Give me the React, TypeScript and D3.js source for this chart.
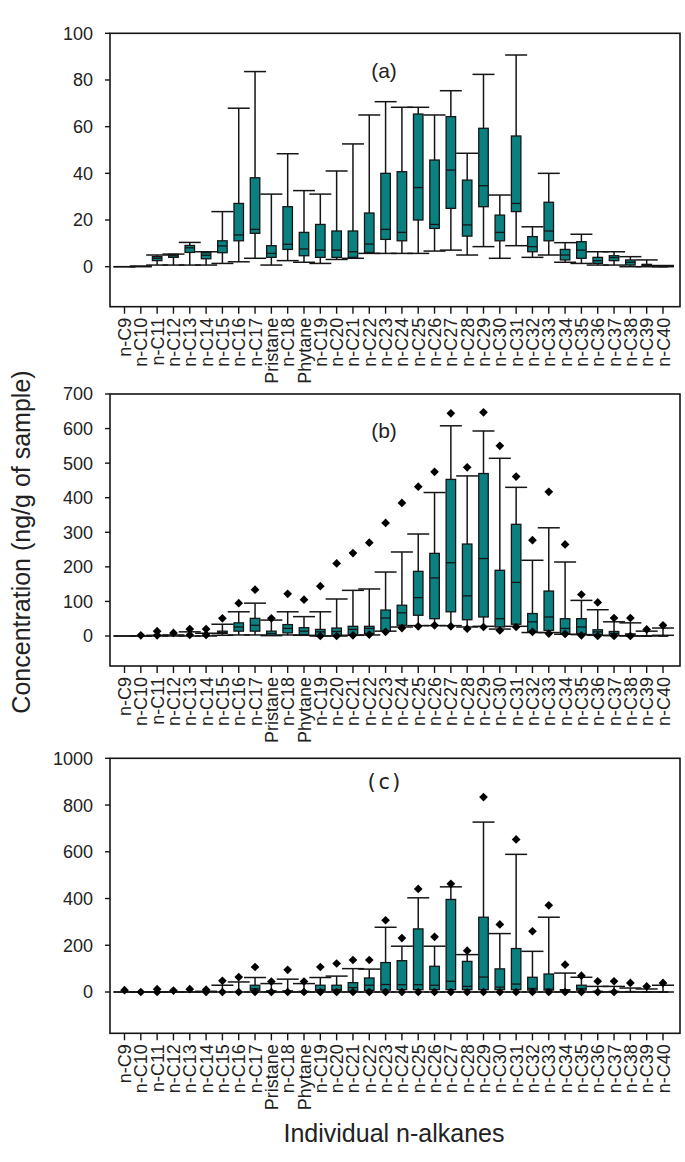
import React from 'react';
import * as d3 from 'd3';

const categories = ['n-C9','n-C10','n-C11','n-C12','n-C13','n-C14','n-C15','n-C16','n-C17','Pristane','n-C18','Phytane','n-C19','n-C20','n-C21','n-C22','n-C23','n-C24','n-C25','n-C26','n-C27','n-C28','n-C29','n-C30','n-C31','n-C32','n-C33','n-C34','n-C35','n-C36','n-C37','n-C38','n-C39','n-C40'];

// Panel (a)
const aLow = [0, 0, 0.7, 0.7, 0.7, 0.7, 1.4, 2.1, 3.6, 0.7, 2.6, 1.9, 1.4, 3.1, 3.6, 5.7, 5.7, 5.7, 5.7, 6.7, 7.1, 5, 8.6, 3.6, 9, 4, 5, 1.9, 1.4, 0.7, 0.7, 0, 0, 0];
const aQ1 = [0, 0, 2.6, 4, 6.1, 3.4, 6, 11.1, 14.3, 4, 7.4, 4.7, 4, 4, 4, 6.1, 11.7, 11.1, 20, 16.4, 25, 13.1, 25.7, 11.1, 23.6, 6.4, 11.1, 2.9, 3.6, 1.4, 2.6, 0.7, 0.3, 0];
const aMed = [0, 0, 3.6, 4.7, 8.1, 4.9, 8.9, 13.6, 16, 5.7, 9.6, 7.6, 7.1, 7.1, 6.4, 9.7, 16, 14.7, 33.9, 18.1, 41.4, 17.9, 34.7, 14.7, 27.1, 8.6, 15.3, 5, 7.1, 2.6, 3.9, 1.9, 0.6, 0];
const aQ3 = [0, 0, 4.3, 5.3, 9.1, 6, 11.1, 27.1, 38.1, 9, 25.7, 14.7, 18.1, 15.3, 15.3, 23, 40, 40.7, 65.4, 45.7, 64.3, 37.1, 59.3, 22.1, 56, 12.9, 27.6, 7.4, 10.7, 4, 4.7, 2.9, 1, 0.3];
const aHigh = [0, 0.3, 5, 5.4, 10.4, 6.4, 23.6, 67.9, 83.6, 31.1, 48.4, 32.6, 31.1, 41, 52.6, 65, 70.7, 68.3, 68.3, 65, 75.4, 48.6, 82.4, 30.7, 90.7, 17.1, 40, 10.3, 13.9, 6.4, 6.4, 4.3, 2.9, 0.5];

// Panel (b)
const bLow = [0, 0, 0, 0, 0, 0, 2, 3, 3, 1, 3, 2, 0, 0, 2, 3, 14, 26, 30, 30, 30, 26, 28, 20, 28, 10, 10, 5, 4, 2, 1, 0, 0, 2];
const bQ1 = [0, 0, 0, 0, 0, 0, 7, 14, 14, 2, 9, 4, 0, 2, 4, 7, 14, 31, 60, 50, 70, 47, 55, 26, 34, 12, 16, 7, 7, 4, 2, 1, 0, 0];
const bMed = [0, 0, 0, 0, 0, 0, 10, 26, 31, 7, 22, 14, 12, 13, 19, 22, 52, 67, 111, 168, 212, 116, 224, 50, 155, 41, 55, 22, 26, 12, 7, 4, 0, 0];
const bQ3 = [0, 0, 0, 0, 0, 0, 14, 38, 51, 14, 33, 24, 19, 23, 28, 28, 75, 89, 187, 239, 453, 266, 470, 190, 323, 65, 130, 50, 50, 18, 13, 6, 1, 1];
const bHigh = [0, 0, 2, 3, 12, 8, 34, 70, 95, 46, 70, 56, 70, 107, 132, 136, 185, 243, 295, 415, 608, 463, 593, 514, 430, 219, 313, 214, 103, 76, 41, 38, 14, 23];
const bOutHigh = [null, 2, 14, 9, 20, 20, 51, 95, 134, 51, 122, 105, 144, 210, 240, 270, 327, 385, 432, 475, 644, 488, 647, 550, 461, 277, 417, 265, 120, 97, 52, 52, 19, 31];
const bOutLow = [null, null, 2, null, 3, 3, null, null, null, null, null, null, 0, 0, 2, 4, 12, 23, 28, 31, 28, 21, 26, 16, 26, 12, 7, 6, 2, 0, 0, 0, null, null];

// Panel (c)
const cLow = [0, 0, 0, 0, 0, 0, 0, 0, 0, 0, 0, 0, 0, 0, 0, 0, 0, 0, 0, 0, 0, 0, 0, 0, 0, 0, 0, 0, 0, 0, 0, 0, 0, 0];
const cQ1 = [0, 0, 0, 0, 0, 0, 0, 0, 7, 0, 0, 0, 5, 5, 3, 7, 8, 10, 10, 10, 10, 10, 10, 10, 10, 8, 8, 3, 8, 0, 0, 0, 0, 0];
const cMed = [0, 0, 0, 0, 0, 0, 0, 0, 14, 2, 2, 1, 10, 10, 19, 29, 32, 31, 31, 29, 46, 24, 64, 21, 34, 15, 12, 5, 14, 1, 1, 1, 0, 0];
const cQ3 = [0, 0, 0, 0, 0, 0, 0, 0, 29, 5, 5, 3, 29, 29, 40, 60, 126, 134, 270, 110, 396, 131, 320, 99, 186, 63, 77, 10, 29, 3, 3, 2, 1, 1];
const cHigh = [0, 0, 0, 0, 0, 3, 29, 43, 62, 36, 55, 36, 62, 68, 100, 98, 277, 196, 403, 196, 450, 160, 727, 250, 589, 174, 320, 81, 63, 24, 24, 17, 13, 29];
const cOutHigh = [8, 0, 12, 6, 12, 10, 48, 64, 107, 45, 95, 45, 107, 122, 137, 137, 307, 231, 441, 236, 463, 177, 834, 289, 653, 260, 371, 117, 70, 46, 46, 39, 24, 39];
const cOutLow = [null, null, 0, null, null, 0, 0, 0, 0, 0, 0, 0, 0, 0, 0, 0, 0, 0, 0, 0, 0, 0, 0, 0, 0, 0, 0, 0, 0, 0, 0, null, null, null];

const aTicks = [0, 20, 40, 60, 80, 100];
const bTicks = [0, 100, 200, 300, 400, 500, 600, 700];
const cTicks = [0, 200, 400, 600, 800, 1000];

const panels = [
  { tag: '(a)', low: aLow, q1: aQ1, med: aMed, q3: aQ3, high: aHigh, outHigh: null, outLow: null, ticks: aTicks, dom: [-17.14, 100], top: 33.3, bottom: 306.7, tagY: 78, tagFont: 'Liberation Sans, Arial, sans-serif', tagSize: 21 },
  { tag: '(b)', low: bLow, q1: bQ1, med: bMed, q3: bQ3, high: bHigh, outHigh: bOutHigh, outLow: bOutLow, ticks: bTicks, dom: [-86.8, 700], top: 394, bottom: 666, tagY: 438, tagFont: 'Liberation Sans, Arial, sans-serif', tagSize: 21 },
  { tag: '(c)', low: cLow, q1: cQ1, med: cMed, q3: cQ3, high: cHigh, outHigh: cOutHigh, outLow: cOutLow, ticks: cTicks, dom: [-176.7, 1000], top: 758.3, bottom: 1033.3, tagY: 789, tagFont: 'DejaVu Sans Mono, monospace', tagSize: 21 },
];

const W = 685, H = 1162;
const LEFT = 110, RIGHT = 680;
const FILL = '#0a8080';
const INK = '#151515';
const FONT = 'Liberation Sans, Arial, sans-serif';

const x = d3.scalePoint<string>().domain(categories).range([124.5, 663]);
const diamond = d3.symbol().type(d3.symbolSquare).size(38)();

function Panel({ p }: { p: any }) {
  const y = d3.scaleLinear().domain(p.dom).range([p.bottom, p.top]);
  const boxW = 9.5, capW = 22, sw = 1.5;
  return (
    <g>
      {categories.map((c, i) => {
        const cx = x(c)!;
        return (
          <g key={c}>
            <line x1={cx} x2={cx} y1={y(p.high[i])} y2={y(p.q3[i])} stroke={INK} strokeWidth={sw} />
            <line x1={cx} x2={cx} y1={y(p.q1[i])} y2={y(p.low[i])} stroke={INK} strokeWidth={sw} />
            <line x1={cx - capW / 2} x2={cx + capW / 2} y1={y(p.high[i])} y2={y(p.high[i])} stroke={INK} strokeWidth={sw} />
            <line x1={cx - capW / 2} x2={cx + capW / 2} y1={y(p.low[i])} y2={y(p.low[i])} stroke={INK} strokeWidth={sw} />
            {p.q3[i] > p.q1[i] && (
              <rect x={cx - boxW / 2} width={boxW} y={y(p.q3[i])} height={Math.max(0.5, y(p.q1[i]) - y(p.q3[i]))} fill={FILL} stroke={INK} strokeWidth={1.3} />
            )}
            {p.q3[i] > p.q1[i] && (
              <line x1={cx - boxW / 2} x2={cx + boxW / 2} y1={y(p.med[i])} y2={y(p.med[i])} stroke={INK} strokeWidth={1.3} />
            )}
            {p.outHigh && p.outHigh[i] != null && (
              <path d={diamond} transform={`translate(${cx},${y(p.outHigh[i])}) rotate(45)`} fill="#000" />
            )}
            {p.outLow && p.outLow[i] != null && (
              <path d={diamond} transform={`translate(${cx},${y(p.outLow[i])}) rotate(45)`} fill="#000" />
            )}
          </g>
        );
      })}
      <rect x={LEFT} y={p.top} width={RIGHT - LEFT} height={p.bottom - p.top} fill="none" stroke={INK} strokeWidth={1.6} />
      {p.ticks.map((t: number) => (
        <g key={t}>
          <line x1={LEFT - 5} x2={LEFT} y1={y(t)} y2={y(t)} stroke={INK} strokeWidth={1.4} />
          <text x={93} y={y(t)} dy="0.36em" textAnchor="end" fontFamily={FONT} fontSize={18} fill="#222">{t}</text>
        </g>
      ))}
      {categories.map((c) => (
        <g key={'t' + c}>
          <line x1={x(c)} x2={x(c)} y1={p.bottom} y2={p.bottom + 7} stroke={INK} strokeWidth={1.4} />
          <text transform={`translate(${x(c)! + 6.5},${p.bottom + 11}) rotate(-90)`} textAnchor="end" fontFamily={FONT} fontSize={18} fill="#222">{c}</text>
        </g>
      ))}
      <text x={384} y={p.tagY} textAnchor="middle" fontFamily={p.tagFont} fontSize={p.tagSize} fill="#222">{p.tag}</text>
    </g>
  );
}

export default function App() {
  return (
    <div style={{ position: 'absolute', left: 0, top: 0 }}>
      <svg width={W} height={H} style={{ display: 'block', background: '#fff' }}>
        {panels.map((p) => <Panel key={p.tag} p={p} />)}
        <text transform="translate(30,542) rotate(-90)" textAnchor="middle" fontFamily={FONT} fontSize={25} fill="#222">Concentration (ng/g of sample)</text>
        <text x={394} y={1142} textAnchor="middle" fontFamily={FONT} fontSize={25} fill="#222">Individual n-alkanes</text>
      </svg>
    </div>
  );
}
